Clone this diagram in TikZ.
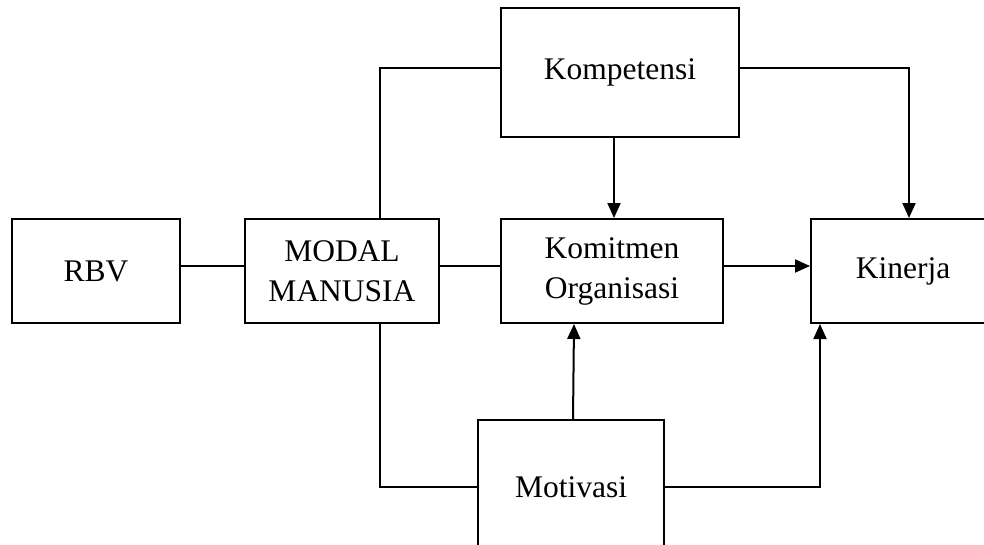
\documentclass[tikz,border=0pt]{standalone}
\usepackage{fontspec}
\setmainfont{Liberation Serif}
\usetikzlibrary{arrows.meta}
\begin{document}
\begin{tikzpicture}[x=1pt,y=-1pt,
  box/.style={draw,line width=2pt,align=center,inner sep=0pt,
    font=\fontsize{31.5}{40}\selectfont},
  conn/.style={line width=2pt},
  arr/.style={conn,-{Triangle[length=15pt,width=13pt]}}]
\clip (0,0) rectangle (984,544);
\useasboundingbox (0,0) rectangle (984,544);
\node[box,minimum width=168pt,minimum height=104pt] (rbv) at (96,271) {RBV};
\node[box,minimum width=194pt,minimum height=104pt] (modal) at (342,271) {MODAL\\MANUSIA};
\node[box,minimum width=238pt,minimum height=129pt] (komp) at (620,72.5) {Kompetensi};
\node[box,minimum width=222pt,minimum height=104pt] (komit) at (612,271) {Komitmen\\Organisasi};
\node[box,minimum width=184pt,minimum height=104pt] (kin) at (903,271) {Kinerja};
\node[box,minimum width=186pt,minimum height=134pt] (moti) at (571,487) {Motivasi};
\draw[conn] ([yshift=5pt]rbv.east) -- ([yshift=5pt]modal.west);
\draw[conn] ([yshift=5pt]modal.east) -- ([yshift=5pt]komit.west);
\draw[conn] ([xshift=38pt]modal.north) |- ([yshift=5pt]komp.west);
\draw[conn] ([xshift=38pt]modal.south) |- (moti.west);
\draw[arr] ([yshift=5pt]komp.east) -| ([xshift=6pt]kin.north);
\draw[arr] ([xshift=2pt]komit.north |- komp.south) -- ([xshift=2pt]komit.north);
\draw[arr] ([yshift=5pt]komit.east) -- ([yshift=5pt]kin.west);
\draw[arr] ([xshift=2pt]moti.north) -- ([xshift=3pt]moti.north |- komit.south);
\draw[arr] (moti.east) -| ([xshift=-83pt]kin.south);
\end{tikzpicture}
\end{document}
